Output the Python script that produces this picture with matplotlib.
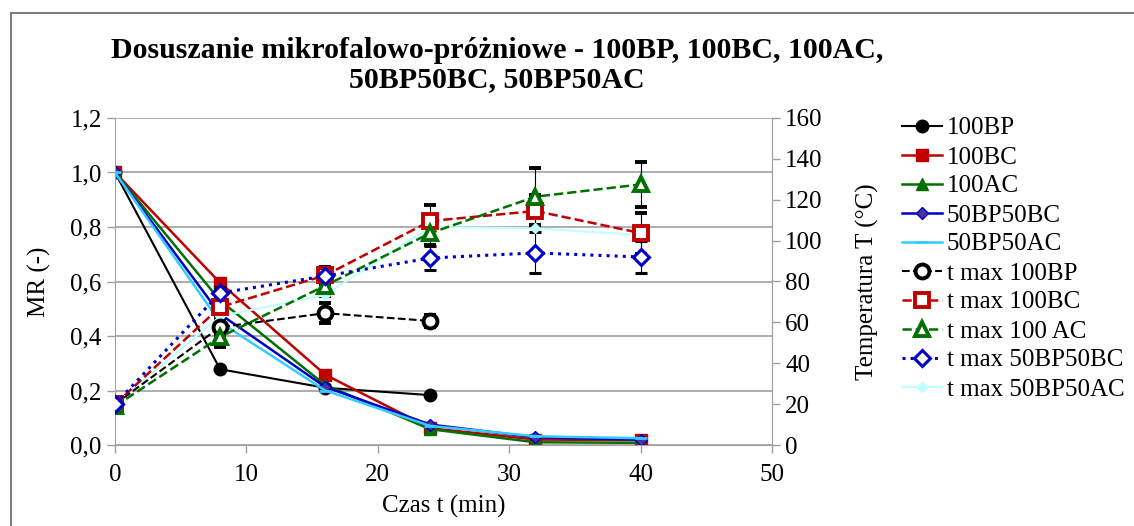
import matplotlib.pyplot as plt
import matplotlib.patches as patches
from matplotlib.ticker import FuncFormatter

plt.rcParams['font.family'] = ['Liberation Serif', 'DejaVu Serif']

czas = [0, 8, 16, 24, 32, 40]
czas_bp = [0, 8, 16, 24]

# MR (-)
mr_100bp = [1.0, 0.278, 0.21, 0.183]
mr_100bc = [1.0, 0.595, 0.258, 0.062, 0.02, 0.018]
mr_100ac = [1.0, 0.53, 0.22, 0.058, 0.01, 0.008]
mr_50bp50bc = [1.0, 0.48, 0.213, 0.075, 0.028, 0.02]
mr_50bp50ac = [1.0, 0.45, 0.20, 0.07, 0.032, 0.025]

# temperatura max (°C)
t_100bp = [20, 57.7, 64.5, 60.7]
t_100bc = [20, 67.5, 83, 109.6, 114.5, 103.7]
t_100ac = [19, 52.8, 78, 103.7, 121.5, 127.5]
t_50bp50bc = [20, 74.4, 82.7, 91.5, 94, 92]
t_50bp50ac = [20, 63, 73.4, 106.7, 106, 102.7]

err_100bp = [0, 4, 5, 3]
err_100bc = [0, 4, 4, 8, 8, 10]
err_100ac = [0, 5, 5, 6, 14, 11]
err_50bp50bc = [0, 3, 3, 6, 10, 8]

labels = ['100BP', '100BC', '100AC', '50BP50BC', '50BP50AC',
          't max 100BP', 't max 100BC', 't max 100 AC', 't max 50BP50BC', 't max 50BP50AC']

fig = plt.figure(figsize=(11.34, 5.26), dpi=100)
fig.patches.append(patches.Rectangle((11 / 1134, -0.01), 1.2, 1 - 13 / 526 + 0.01,
                                     transform=fig.transFigure, fill=False,
                                     edgecolor='#808080', linewidth=1.5))

ax = fig.add_axes([115 / 1134, 1 - 445 / 526, (772 - 115) / 1134, (445 - 118) / 526])
ax2 = ax.twinx()

fs = 18
ax.set_xlim(0, 50)
ax.set_ylim(0, 1.2)
ax2.set_ylim(0, 160)
ax.set_xticks([0, 10, 20, 30, 40, 50])
ax.set_yticks([0, 0.2, 0.4, 0.6, 0.8, 1.0, 1.2])
ax2.set_yticks(range(0, 161, 20))
ax.yaxis.set_major_formatter(FuncFormatter(lambda v, p: f'{v:.1f}'.replace('.', ',')))
ax.grid(axis='y', color='#a0a0a0', linewidth=1.2)
ax.set_axisbelow(True)

for a in (ax, ax2):
    for s in a.spines.values():
        s.set_color('#a0a0a0')
    a.spines['top'].set_visible(False)
    a.tick_params(colors='#a0a0a0', labelcolor='black', labelsize=fs, length=6, width=1)
ax.tick_params(axis='x', pad=8)
ax2.spines['left'].set_visible(False)
ax2.spines['bottom'].set_visible(False)

h = []
h += ax.plot(czas_bp, mr_100bp, color='black', marker='o', ms=9, lw=1.5)
h += ax.plot(czas, mr_100bc, color='#c00000', marker='s', ms=9, lw=1.8)
h += ax.plot(czas, mr_100ac, color='#007000', marker='^', ms=9, lw=1.8)
h += ax.plot(czas, mr_50bp50bc, color='#0000cc', marker='D', ms=6, mfc='#5030a0', lw=1.8)
h += ax.plot(czas, mr_50bp50ac, color='#33ccff', marker='_', ms=8, mew=2, lw=1.8)

ekw = dict(ecolor='black', elinewidth=0.8, capsize=4, capthick=0.8)
e = ax2.errorbar(czas_bp, t_100bp, yerr=err_100bp, color='black', marker='o', ms=10,
                 mfc='white', mew=2.8, ls='--', lw=1.5, **ekw)
h.append(e.lines[0])
e = ax2.errorbar(czas, t_100bc, yerr=err_100bc, color='#c00000', marker='s', ms=10,
                 mfc='white', mew=2.8, ls='--', lw=1.8, **ekw)
h.append(e.lines[0])
e = ax2.errorbar(czas, t_100ac, yerr=err_100ac, color='#007000', marker='^', ms=10,
                 mfc='white', mew=2.8, ls='--', lw=1.8, **ekw)
h.append(e.lines[0])
e = ax2.errorbar(czas, t_50bp50bc, yerr=err_50bp50bc, color='#0000cc', marker='D', ms=8,
                 mfc='white', mew=2.2, ls=':', lw=2.2, **ekw)
h.append(e.lines[0])
h += ax2.plot(czas, t_50bp50ac, color='#c0ffff', marker='D', ms=5, lw=1.5)

ax.set_xlabel('Czas t (min)', fontsize=fs, labelpad=6)
ax.set_ylabel('MR (-)', fontsize=fs, labelpad=14)
ax2.set_ylabel('Temperatura T (°C)', fontsize=fs, labelpad=24)

fig.text(497 / 1134, 1 - 65 / 526,
         'Dosuszanie mikrofalowo-próżniowe - 100BP, 100BC, 100AC,\n50BP50BC, 50BP50AC',
         ha='center', va='center', fontsize=21.5, fontweight='bold', linespacing=1.1)

fig.legend(handles=h, labels=labels, loc='upper left',
           bbox_to_anchor=(902 / 1134, 1 - 117 / 526),
           frameon=False, fontsize=fs, handlelength=1.6, handletextpad=0.2,
           labelspacing=0.26, borderaxespad=0, borderpad=0)

fig.savefig('out.png', dpi=100)
